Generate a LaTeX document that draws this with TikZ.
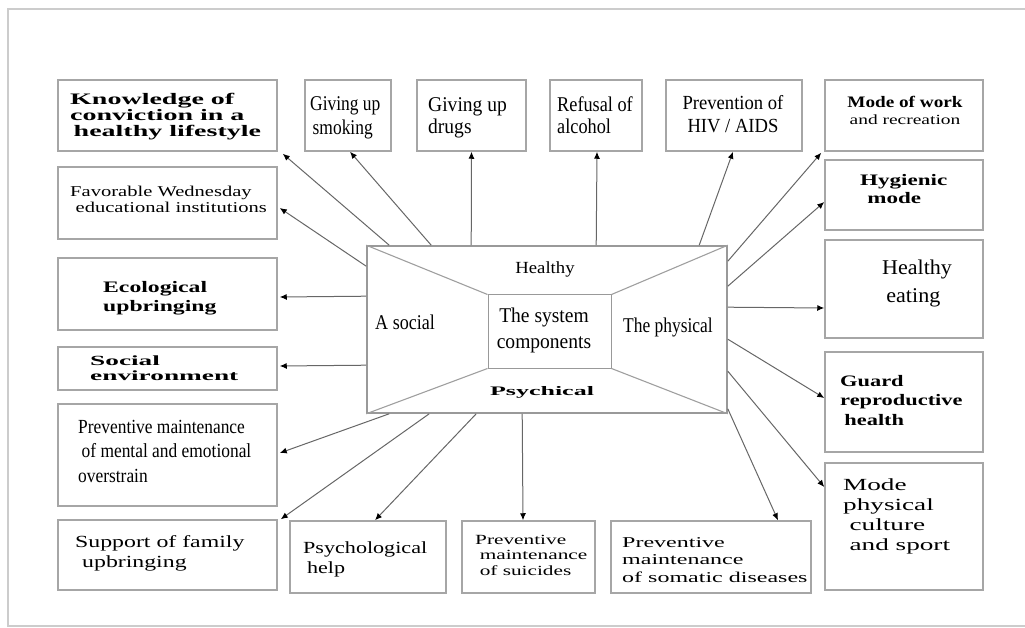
\documentclass[tikz,border=0pt]{standalone}
\usepackage{fontspec}
\setmainfont{Liberation Serif}
\usepackage{graphicx}
\usetikzlibrary{arrows.meta}
\newcommand\tx[5]{{\fontsize{#2}{#3}\selectfont\scalebox{#1}[1]{\begin{tabular}[t]{@{}#4@{}}#5\end{tabular}}}}
\tikzset{
  box/.style={draw=gray!70, line width=1.5pt, inner sep=0pt, fill=white},
  txt/.style={inner sep=0pt, text=black},
  arr/.style={draw=black!60, line width=1pt, -{Latex[length=7pt,width=6pt,fill=black,color=black]}},
  diag/.style={draw=gray!75, line width=1.1pt},
  frame/.style={draw=gray!40, line width=2.5pt},
}
\begin{document}
\begin{tikzpicture}[x=1pt,y=-1pt]
\useasboundingbox (0,0) rectangle (1025,628);
\draw[frame] (1030,9) -- (8,9) -- (8,626) -- (1030,626);

% boxes
\node[box, minimum width=219, minimum height=71] (know) at (167.5,115.5) {};
\node[box, minimum width=86, minimum height=71] (smoke) at (348,115.5) {};
\node[box, minimum width=109, minimum height=71] (drugs) at (471.5,115.5) {};
\node[box, minimum width=92, minimum height=71] (alc) at (596,115.5) {};
\node[box, minimum width=136, minimum height=71] (hiv) at (734,115.5) {};
\node[box, minimum width=158, minimum height=71] (work) at (904,115.5) {};
\node[box, minimum width=158, minimum height=70] (hyg) at (904,195) {};
\node[box, minimum width=158, minimum height=98] (eat) at (904,289) {};
\node[box, minimum width=158, minimum height=100] (guard) at (904,402) {};
\node[box, minimum width=158, minimum height=127] (sport) at (904,526.5) {};
\node[box, minimum width=200, minimum height=72] (soma) at (711,557) {};
\node[box, minimum width=133, minimum height=72] (suic) at (528.5,557) {};
\node[box, minimum width=156, minimum height=72] (psy) at (368,557) {};
\node[box, minimum width=219, minimum height=70] (fam) at (167.5,555) {};
\node[box, minimum width=219, minimum height=102] (mental) at (167.5,455) {};
\node[box, minimum width=219, minimum height=43] (socenv) at (167.5,368.5) {};
\node[box, minimum width=219, minimum height=72] (eco) at (167.5,294) {};
\node[box, minimum width=219, minimum height=72] (fav) at (167.5,203) {};

% central box
\node[draw=gray!80, line width=1.6pt, minimum width=360, minimum height=167, inner sep=0pt] (cb) at (547,329.5) {};
\node[draw=gray!80, line width=1pt, minimum width=123, minimum height=73, inner sep=0pt] (ib) at (549.5,331.5) {};
\draw[diag] (cb.north west) -- (ib.north west);
\draw[diag] (cb.north east) -- (ib.north east);
\draw[diag] (cb.south west) -- (ib.south west);
\draw[diag] (cb.south east) -- (ib.south east);

% central texts
\node[txt, anchor=base] (tHealthy) at (545,273) {\tx{1.1}{17}{20}{c}{Healthy}};
\node[txt, anchor=base west] (tSocial) at (375,329) {\tx{0.86}{21}{24}{l}{A social}};
\node[txt, anchor=base] (tSys) at (544,322) {\tx{0.93}{21}{26}{c}{The system\\components}};
\node[txt, anchor=base west] (tPhys) at (623,332) {\tx{0.83}{21}{24}{l}{The physical}};
\node[txt, anchor=base] (tPsych) at (542,395) {\bfseries\tx{2.0}{13}{15}{c}{Psychical}};

% box texts
\node[txt, anchor=base west] (tknow) at (70,105) {\bfseries\tx{1.75}{16}{15}{l}{Knowledge of\\conviction in a\\\hspace{2pt}healthy lifestyle}};
\node[txt, anchor=base west] (tsmoke) at (310,111) {\tx{0.83}{21}{24}{l}{Giving up\\\hspace{3pt}smoking}};
\node[txt, anchor=base west] (tdrugs) at (428,112) {\tx{0.93}{21}{22}{l}{Giving up\\drugs}};
\node[txt, anchor=base west] (talc) at (557,112) {\tx{0.87}{21}{22}{l}{Refusal of\\alcohol}};
\node[txt, anchor=base] (thiv) at (733,110) {\tx{0.93}{20}{23}{c}{Prevention of\\HIV / AIDS}};
\node[txt, anchor=base] (twork1) at (905,108) {\bfseries\tx{1.2}{16}{17}{c}{Mode of work}};
\node[txt, anchor=base] (twork2) at (905,125) {\tx{1.39}{14}{17}{c}{and recreation}};
\node[txt, anchor=base west] (thyg) at (860,186) {\bfseries\tx{1.44}{16}{18}{l}{Hygienic\\\hspace{5pt}mode}};
\node[txt, anchor=base west] (teat) at (882,275) {\tx{1.05}{21}{28}{l}{Healthy\\\hspace{4pt}eating}};
\node[txt, anchor=base west] (tguard) at (840,386) {\bfseries\tx{1.4}{16}{19.5}{l}{Guard\\reproductive\\\hspace{3pt}health}};
\node[txt, anchor=base west] (tsport) at (843,490) {\tx{1.6}{17}{20}{l}{Mode\\physical\\\hspace{4pt}culture\\\hspace{4pt}and sport}};
\node[txt, anchor=base west] (tsoma) at (622,547) {\tx{1.6}{15}{17.5}{l}{Preventive\\maintenance\\of somatic diseases}};
\node[txt, anchor=base west] (tsuic) at (475,544) {\tx{1.52}{14}{15.5}{l}{Preventive\\\hspace{3pt}maintenance\\\hspace{3pt}of suicides}};
\node[txt, anchor=base west] (tpsy) at (303,553) {\tx{1.3}{17}{20}{l}{Psychological\\\hspace{3pt}help}};
\node[txt, anchor=base west] (tfam) at (75,547) {\tx{1.4}{17}{20}{l}{Support of family\\\hspace{5pt}upbringing}};
\node[txt, anchor=base west] (tmental) at (78,433) {\tx{0.87}{20}{24.5}{l}{Preventive maintenance\\\hspace{4pt}of mental and emotional\\overstrain}};
\node[txt, anchor=base west] (tsocenv) at (90,365) {\bfseries\tx{1.95}{14}{15}{l}{Social\\environment}};
\node[txt, anchor=base west] (teco) at (103,293) {\bfseries\tx{1.48}{16}{18}{l}{Ecological\\upbringing}};
\node[txt, anchor=base west] (tfav) at (70,197) {\tx{1.37}{15}{16}{l}{Favorable Wednesday\\\hspace{4pt}educational institutions}};

% connectors
\draw[arr] ([xshift=23pt]cb.north west) -- ([xshift=5pt,yshift=-2pt]know.south east);
\draw[arr] ([xshift=65pt]cb.north west) -- ([xshift=2pt]smoke.south);
\draw[arr] ([xshift=105pt]cb.north west) -- (drugs.south);
\draw[arr] ([xshift=230pt]cb.north west) -- ([xshift=1pt]alc.south);
\draw[arr] ([xshift=333pt]cb.north west) -- ([xshift=-1pt]hiv.south);
\draw[arr] ([yshift=-16pt]cb.north east) -- ([xshift=-3pt,yshift=-1pt]work.south west);
\draw[arr] ([yshift=-41pt]cb.north east) -- ([yshift=-7pt]hyg.west);
\draw[arr] ([yshift=-62pt]cb.north east) -- ([yshift=-19pt]eat.west);
\draw[arr] ([yshift=-94pt]cb.north east) -- ([yshift=4pt]guard.west);
\draw[arr] ([yshift=-126pt]cb.north east) -- ([yshift=39.5pt]sport.west);
\draw[arr] ([yshift=5pt]cb.south east) -- ([xshift=67pt]soma.north);
\draw[arr] ([xshift=156pt]cb.south west) -- ([xshift=-5.5pt]suic.north);
\draw[arr] ([xshift=110pt]cb.south west) -- ([xshift=7pt]psy.north);
\draw[arr] ([xshift=63pt]cb.south west) -- ([xshift=3pt]fam.north east);
\draw[arr] ([xshift=23pt]cb.south west) -- ([xshift=2pt,yshift=2pt]mental.east);
\draw[arr] ([yshift=-120pt]cb.north west) -- ([xshift=2pt,yshift=2.5pt]socenv.east);
\draw[arr] ([yshift=-51pt]cb.north west) -- ([xshift=2pt,yshift=-3pt]eco.east);
\draw[arr] ([yshift=-21pt]cb.north west) -- ([xshift=2pt,yshift=-5pt]fav.east);
\end{tikzpicture}
\end{document}
